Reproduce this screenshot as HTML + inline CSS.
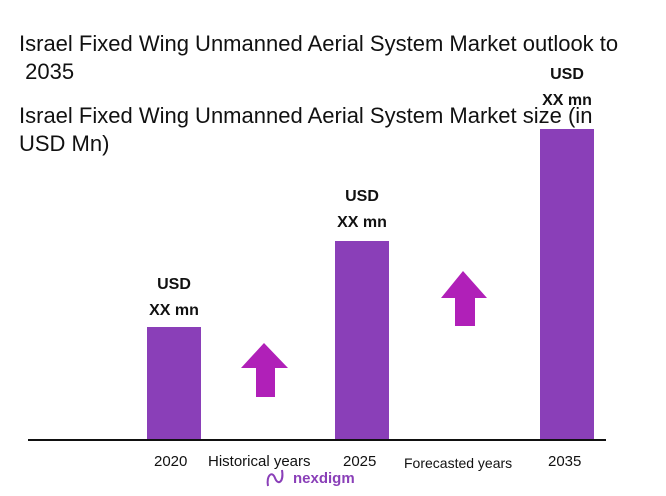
<!DOCTYPE html>
<html><head><style>
body{margin:0;width:666px;height:496px;background:#fff;position:relative;overflow:hidden;font-family:"Liberation Sans",sans-serif;color:#111}
.t{position:absolute;left:19px;font-size:22px;line-height:28px;white-space:nowrap}
.bar{position:absolute;background:#8a3fb8;width:54px}
.v{position:absolute;font-weight:bold;font-size:16px;text-align:center;width:80px;line-height:26px}
.x{position:absolute;font-size:15px;top:453px;white-space:nowrap}
</style></head><body>
<div class="t" style="top:30px">Israel Fixed Wing Unmanned Aerial System Market outlook to<br>&nbsp;2035</div>
<div class="t" style="top:102px">Israel Fixed Wing Unmanned Aerial System Market size (in<br>USD Mn)</div>
<div class="bar" style="left:147px;top:327px;height:114px"></div>
<div class="bar" style="left:335px;top:241px;height:200px"></div>
<div class="bar" style="left:540px;top:129px;height:312px"></div>
<div class="v" style="left:134px;top:272px">USD<br>XX mn</div>
<div class="v" style="left:322px;top:184px">USD<br>XX mn</div>
<div class="v" style="left:527px;top:62px">USD<br>XX mn</div>
<div style="position:absolute;left:28px;top:439px;width:578px;height:2px;background:#111"></div>
<svg style="position:absolute;left:0;top:0" width="666" height="496">
<polygon points="264,343 288,368 275,368 275,397 256,397 256,368 241,368" fill="#b020b8"/>
<polygon points="463,271 487,298 475,298 475,326 455,326 455,298 441,298" fill="#b020b8"/>
<path d="M268,486 C266,476 272,470 275,478 C278,486 284,482 282,470" stroke="#8a3fb8" stroke-width="2" fill="none"/>
</svg>
<div class="x" style="left:154px">2020</div>
<div class="x" style="left:208px">Historical years</div>
<div class="x" style="left:343px">2025</div>
<div class="x" style="left:404px;font-size:14px;top:455px">Forecasted years</div>
<div class="x" style="left:548px">2035</div>
<div style="position:absolute;left:293px;top:470px;font-size:15px;font-weight:bold;color:#8a3fb8">nexdigm</div>
</body></html>
